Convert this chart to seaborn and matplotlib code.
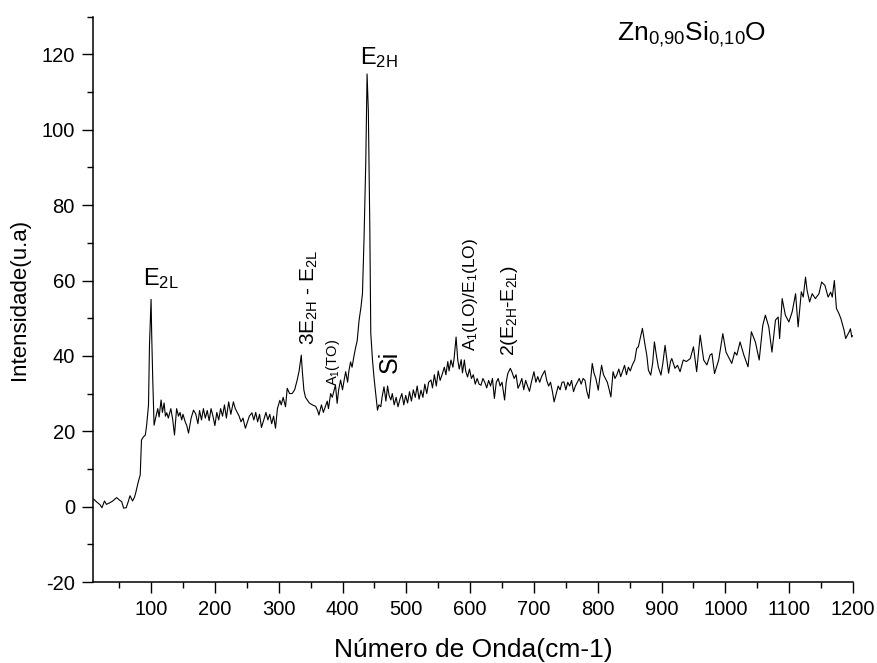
import matplotlib
matplotlib.use("Agg")
import matplotlib.pyplot as plt
import seaborn as sns
import pandas as pd
from matplotlib.ticker import MultipleLocator

# Raman spectrum of Zn0.90Si0.10O
wavenumber = [
    10, 15, 20, 23, 27, 30, 35, 40, 46, 50, 54, 57, 61, 64, 67, 71, 74, 76, 80, 83,
    85, 88, 91, 93, 96, 97.5, 100, 101, 102.6, 104.7, 107.5, 110.5, 112.6, 115.7, 117.8, 120.4, 122.5, 124.6, 127, 131,
    134, 136.7, 140, 143, 145.4, 148, 150, 153.5, 156, 158.7, 162.8, 166.5, 170, 173.4, 176, 179, 182, 185, 188, 191,
    194, 197, 200, 203, 206, 209, 212, 215, 218, 221.6, 225, 229, 232, 235, 238, 241, 244, 247.8, 251, 254,
    258, 261, 264, 267, 270, 273, 276.6, 280, 283, 286, 289, 292, 295, 298, 301.8, 304, 307, 310.7, 313.4, 317,
    321, 325, 329, 332, 335.4, 337, 339.5, 342, 344.8, 348, 352.7, 358, 361, 363, 367, 370, 373, 376, 378, 381.4,
    384, 387, 389, 391.6, 394, 397, 400, 403, 405, 408, 410, 412.6, 415, 418, 420.8, 423, 426, 429, 431.3, 433.8,
    436.5, 438.5, 440.5, 442.8, 444.3, 447, 449.5, 452, 454.8, 457, 460, 462, 465, 468, 470.6, 473, 475.8, 478, 481, 484,
    487, 490, 493, 496, 499, 502, 505, 508, 511, 514, 517, 520, 523, 526, 529, 532, 535, 538.7, 541, 544,
    547, 550, 553, 556, 559.6, 562, 565, 567, 570, 573, 575, 578, 580.6, 583, 586, 588, 591, 593, 596, 599,
    602, 605, 608, 611, 614, 617, 620, 623, 626, 629, 632, 635, 638, 641, 644, 647, 650, 654, 656.5, 659,
    663, 666, 669, 672, 675, 678, 681, 684, 687, 690, 693, 696, 700, 703, 706, 709, 712, 717, 720, 723,
    726, 729, 731.6, 735, 738, 741, 744, 747, 750, 753, 756, 759, 762, 765, 768, 771, 774, 777, 780, 783,
    786, 788.5, 791.4, 794, 797, 800.8, 803, 806, 809, 812, 815, 818, 820.6, 824, 827, 830, 833, 836, 839, 842,
    845, 848, 851, 854, 858, 861, 863.6, 867, 870, 874, 877, 879.4, 883, 886, 888.8, 892, 895, 899, 902, 905.5,
    909, 911, 914, 916, 921, 925, 929, 934, 939, 945, 950, 955, 960.5, 966, 971, 976, 979, 983, 989.5, 996,
    1001, 1006, 1010, 1014.6, 1018, 1023, 1029, 1035.5, 1040.7, 1047, 1053, 1058.6, 1062.7, 1068, 1073, 1078.5, 1082.7, 1085, 1089, 1094,
    1099.5, 1104.7, 1110, 1114, 1119, 1122, 1125.6, 1128, 1132, 1136, 1141, 1146.7, 1150.8, 1156, 1161, 1165, 1167.5, 1170.8, 1174, 1178,
    1181, 1186, 1188.5, 1194, 1196, 1198, 1199.5,
]

intensity = [
    2.0, 1.2, 0.5, -0.3, 1.5, 0.6, 1.0, 1.5, 2.4, 1.8, 1.3, -0.4, -0.3, 1.2, 2.9, 1.5, 2.5, 3.7, 6.6, 8.4,
    17.7, 18.5, 19.0, 21.5, 27.0, 42.8, 55.0, 45.5, 34.0, 21.6, 23.8, 26.0, 23.8, 28.3, 25.0, 27.5, 24.0, 24.9, 23.5, 26.0,
    23.0, 19.0, 26.0, 24.0, 25.0, 23.0, 24.5, 22.5, 21.5, 19.5, 23.5, 25.6, 24.6, 22.0, 25.5, 23.0, 26.0, 23.5, 25.5, 22.8,
    26.0, 24.0, 21.5, 25.0, 23.0, 26.0, 24.0, 27.0, 23.5, 27.8, 24.5, 27.8, 26.0, 25.0, 24.0, 22.5, 23.5, 20.8, 22.5, 24.0,
    24.9, 23.0, 25.0, 22.5, 24.5, 21.0, 23.0, 25.0, 23.0, 24.5, 22.0, 24.0, 20.8, 26.0, 28.2, 27.0, 29.0, 26.5, 31.4, 30.0,
    30.0, 31.0, 33.6, 36.0, 40.2, 36.0, 30.9, 29.0, 28.3, 27.5, 27.0, 26.6, 25.5, 24.3, 27.0, 25.0, 26.5, 28.0, 26.0, 30.0,
    29.0, 31.0, 32.2, 27.4, 31.0, 33.6, 31.0, 34.0, 35.8, 33.0, 36.0, 38.4, 37.0, 40.0, 42.4, 44.0, 49.5, 53.0, 56.6, 71.5,
    91.8, 114.8, 105.0, 74.0, 46.0, 38.9, 34.0, 30.0, 25.6, 27.0, 26.5, 29.0, 31.8, 28.0, 32.0, 29.5, 28.3, 30.0, 27.0, 29.0,
    26.5, 28.5, 30.0, 27.0, 29.5, 27.5, 30.5, 28.0, 31.0, 29.0, 32.0, 28.5, 30.9, 29.0, 32.5, 30.0, 33.0, 33.6, 31.5, 35.0,
    32.0, 36.0, 33.5, 35.0, 37.0, 35.0, 38.5, 36.0, 38.9, 37.0, 39.5, 45.0, 38.9, 36.5, 39.0, 35.5, 38.9, 36.0, 34.4, 36.5,
    34.0, 35.0, 32.5, 34.0, 32.5, 32.2, 34.0, 33.0, 31.5, 33.5, 32.0, 34.0, 28.7, 33.0, 34.0, 32.0, 33.0, 28.3, 33.0, 35.3,
    36.7, 35.5, 34.0, 35.0, 31.4, 32.5, 34.0, 31.0, 33.5, 32.0, 30.6, 33.0, 35.8, 33.0, 34.5, 33.0, 34.5, 36.1, 33.5, 32.0,
    33.0, 30.5, 27.8, 30.0, 32.0, 31.0, 33.0, 33.1, 31.0, 33.0, 32.0, 33.5, 30.5, 32.0, 33.0, 34.0, 32.5, 34.0, 33.5, 30.5,
    28.7, 33.0, 38.0, 35.5, 34.0, 30.9, 34.0, 37.5, 35.0, 34.0, 33.0, 31.0, 29.1, 35.8, 34.0, 35.0, 36.5, 34.5, 36.0, 37.5,
    35.0, 37.0, 36.0, 37.5, 38.9, 42.0, 42.4, 45.0, 47.3, 43.0, 40.0, 36.2, 34.9, 38.0, 43.7, 40.0, 37.0, 34.9, 38.0, 42.8,
    38.0, 35.4, 38.5, 39.3, 36.7, 37.5, 35.8, 38.9, 38.5, 39.3, 42.4, 35.8, 45.5, 38.9, 37.6, 40.2, 40.6, 35.3, 38.9, 45.9,
    41.0, 39.3, 38.0, 41.0, 40.2, 43.7, 40.2, 37.1, 46.4, 43.7, 38.9, 48.1, 50.8, 47.7, 41.0, 49.5, 50.3, 44.6, 55.2, 50.8,
    49.0, 51.7, 56.5, 47.7, 57.0, 55.6, 60.9, 57.4, 54.3, 56.5, 55.2, 56.5, 59.6, 58.7, 55.6, 56.9, 55.6, 60.0, 52.6, 51.2,
    49.9, 46.8, 44.6, 46.4, 47.2, 45.0, 45.4,
]

x_ticks = [100, 200, 300, 400, 500, 600, 700, 800, 900, 1000, 1100, 1200]
y_ticks = [-20, 0, 20, 40, 60, 80, 100, 120]

x_label = "Número de Onda(cm-1)"
y_label = "Intensidade(u.a)"
sample_label = r"Zn$_{\mathregular{0{,}90}}$Si$_{\mathregular{0{,}10}}$O"

df = pd.DataFrame({"wavenumber": wavenumber, "intensity": intensity})

sns.set_theme(style="ticks")
plt.rcParams["font.family"] = ["Liberation Sans", "DejaVu Sans"]
plt.rcParams["mathtext.fontset"] = "custom"
plt.rcParams["mathtext.rm"] = "Liberation Sans"
plt.rcParams["mathtext.it"] = "Liberation Sans:italic"
plt.rcParams["mathtext.bf"] = "Liberation Sans:bold"
plt.rcParams["axes.unicode_minus"] = False
plt.rcParams["text.color"] = "black"
plt.rcParams["axes.labelcolor"] = "black"

fig = plt.figure(figsize=(8.78, 6.63), dpi=100)
ax = fig.add_axes([93 / 878, 81 / 663, 760 / 878, 565.3 / 663])

sns.lineplot(data=df, x="wavenumber", y="intensity", ax=ax,
             color="black", linewidth=0.8, sort=False)

ax.set_xlim(9, 1200)
ax.set_ylim(-20, 130)
ax.set_xticks(x_ticks)
ax.set_yticks(y_ticks)
ax.xaxis.set_minor_locator(MultipleLocator(50))
ax.yaxis.set_minor_locator(MultipleLocator(10))

for side in ("top", "right"):
    ax.spines[side].set_visible(False)
for side in ("left", "bottom"):
    ax.spines[side].set_linewidth(1.1)
    ax.spines[side].set_color("black")

ax.tick_params(axis="both", which="major", direction="out", length=8, width=1.0,
               labelsize=14.5, pad=5, colors="black", labelcolor="black")
ax.tick_params(axis="both", which="minor", direction="out", length=4, width=1.0,
               colors="black")

ax.set_xlabel(x_label, fontsize=19, labelpad=14, color="black")
ax.set_ylabel(y_label, fontsize=16, labelpad=8, color="black")

# peak assignments
ax.text(87, 58.7, r"E$_{\mathregular{2L}}$", fontsize=17, ha="left", va="baseline")
ax.text(427.5, 117.5, r"E$_{\mathregular{2H}}$", fontsize=17, ha="left", va="baseline")
ax.text(347.5, 43, r"3E$_{\mathregular{2H}}$ - E$_{\mathregular{2L}}$", fontsize=15,
        rotation=90, ha="center", va="bottom")
ax.text(385, 32, r"A$_{\mathregular{1}}$(TO)", fontsize=10.5,
        rotation=90, ha="center", va="bottom")
ax.text(474.5, 35.4, "Si", fontsize=18, rotation=90, ha="center", va="bottom")
ax.text(600, 41.2, r"A$_{\mathregular{1}}$(LO)/E$_{\mathregular{1}}$(LO)", fontsize=12.5,
        rotation=90, ha="center", va="bottom")
ax.text(662, 40, r"2(E$_{\mathregular{2H}}$-E$_{\mathregular{2L}}$)", fontsize=14,
        rotation=90, ha="center", va="bottom")
ax.text(830, 123.8, sample_label, fontsize=19, ha="left", va="baseline")

fig.savefig("out.png", dpi=100)
